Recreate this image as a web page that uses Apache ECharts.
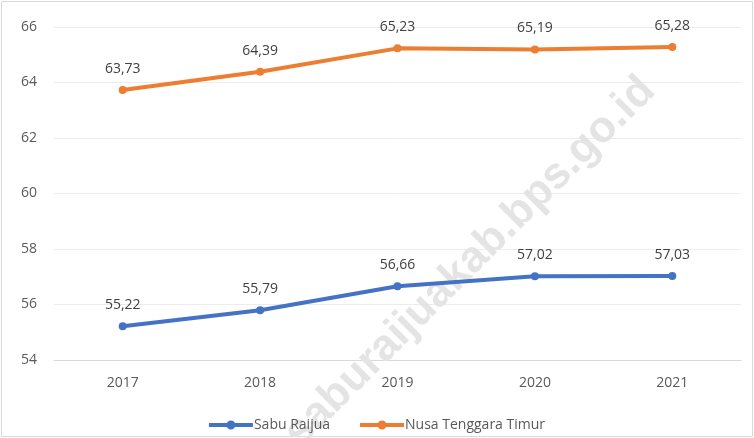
<!DOCTYPE html>
<html>
<head>
<meta charset="utf-8">
<script src="https://cdn.jsdelivr.net/npm/echarts@6/dist/echarts.min.js"></script>
<style>
  html, body { margin: 0; padding: 0; background: #fff; }
  #chart { width: 754px; height: 438px; }
</style>
</head>
<body>
<div id="chart"></div>
<script>
// data
const years = ['2017', '2018', '2019', '2020', '2021']
const sabuRaijua = [55.22, 55.79, 56.66, 57.02, 57.03]
const nusaTenggaraTimur = [63.73, 64.39, 65.23, 65.19, 65.28]
const seriesNames = ['Sabu Raijua', 'Nusa Tenggara Timur']

const chart = echarts.init(document.getElementById('chart'))
const fontFam = '"Open Sans", "Liberation Sans", sans-serif'
// angka pakai koma desimal
const fmt = (p) => p.value.toFixed(2).replace('.', ',')

function lineSeries(name, data, color) {
  return {
    name: name,
    type: 'line',
    data: data,
    symbol: 'circle',
    symbolSize: 8,
    lineStyle: { width: 4, color: color },
    itemStyle: { color: color },
    label: {
      show: true,
      position: 'top',
      distance: 10,
      formatter: fmt,
      color: '#404040',
      fontSize: 14,
      fontFamily: fontFam
    },
    z: 3
  }
}

const option = {
  backgroundColor: '#fff',
  animation: false,
  grid: { left: 54, right: 13, top: 27, bottom: 78 },
  xAxis: {
    type: 'category',
    data: years,
    boundaryGap: true,
    axisLine: { lineStyle: { color: '#d9d9d9' } },
    axisTick: { show: false },
    axisLabel: { color: '#595959', fontSize: 14, fontFamily: fontFam, margin: 16 }
  },
  yAxis: {
    type: 'value',
    min: 54,
    max: 66,
    interval: 2,
    axisLine: { show: false },
    axisTick: { show: false },
    axisLabel: { color: '#595959', fontSize: 14, fontFamily: fontFam, margin: 17 },
    splitLine: { lineStyle: { color: '#ececec' } }
  },
  legend: {
    bottom: 1,
    left: 'center',
    itemWidth: 44,
    itemHeight: 9,
    itemGap: 30,
    textStyle: { color: '#595959', fontSize: 14, fontFamily: fontFam, padding: [0, 0, 0, -4] },
    data: seriesNames.map((n) => ({ name: n, icon: 'path://M0,2.5 L44,2.5 L44,6.5 L0,6.5 Z M22,0 A4.5,4.5 0 1 1 21.99,0 Z' }))
  },
  graphic: [
    {
      type: 'rect',
      shape: { x: 1.5, y: 1.5, width: 751, height: 435 },
      style: { fill: 'none', stroke: '#d9d9d9', lineWidth: 1 },
      silent: true,
      z: -10
    },
    {
      type: 'text',
      x: 470,
      y: 262,
      rotation: Math.PI / 4,
      style: {
        text: 'saburaijuakab.bps.go.id',
        fill: '#e4e4e4',
        font: 'bold 44px "Liberation Sans", Arial, sans-serif',
        align: 'center',
        verticalAlign: 'middle'
      },
      silent: true,
      z: 1
    }
  ],
  series: [
    lineSeries(seriesNames[0], sabuRaijua, '#4472C4'),
    lineSeries(seriesNames[1], nusaTenggaraTimur, '#ED7D31')
  ]
}
chart.setOption(option)
</script>
</body>
</html>
